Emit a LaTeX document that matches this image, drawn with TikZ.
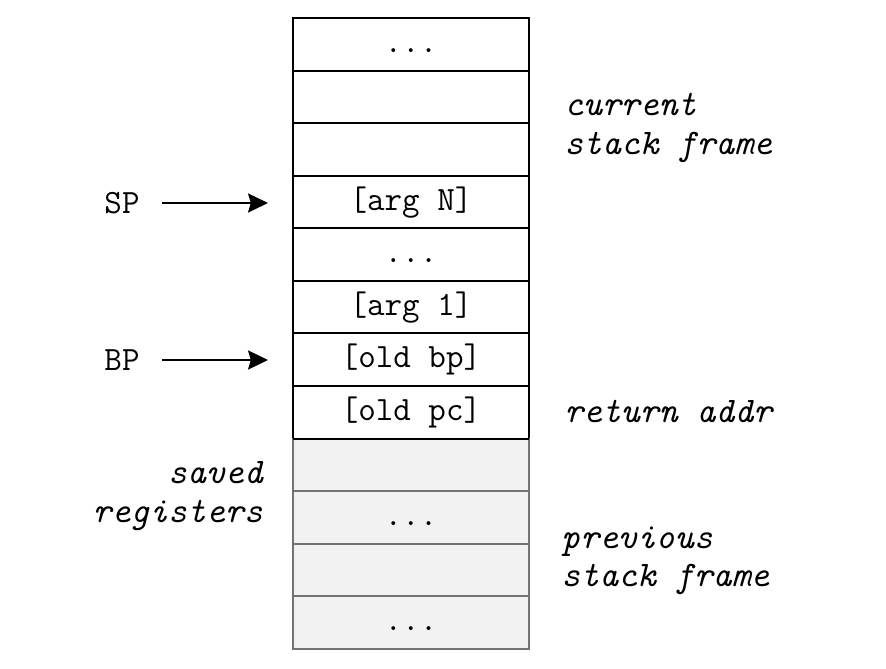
\documentclass[tikz,border=0pt]{standalone}
\usepackage{fontspec}
\usepackage{tikz}
\usetikzlibrary{positioning, arrows.meta}

\newcommand{\cellfont}{\ttfamily\fontsize{24.2}{27}\selectfont}
\newcommand{\notefont}{\ttfamily\itshape\fontsize{25.6}{27.2}\selectfont}

\tikzset{
	cell/.style = {draw, line width = 1.4pt, outer sep = 0pt, inner sep = 0pt,
		minimum width = 5.9cm, minimum height = 1.3145cm, font = \cellfont,
		text height = 0.55cm, text depth = 0.15cm},
	oldcell/.style = {cell, draw = black!55, fill = black!5},
	note/.style = {font = \notefont, inner sep = 0pt},
	reg/.style = {font = \cellfont, inner sep = 0pt},
	ptr/.style = {-{Stealth[length=0.5cm, width=0.48cm, inset=0.07cm]}, line width = 1pt}
}

\begin{document}
\begin{tikzpicture}
			\useasboundingbox (0,0) rectangle (22.15,-16.725);
			% current frame
			\node[cell] at (10.275,-1.107) (c1){...};
			\node[cell, below = 0pt of c1] (c2){};
			\node[cell, below = 0pt of c2] (c3){};
			\node[cell, below = 0pt of c3] (c4){[arg N]};
			\node[cell, below = 0pt of c4] (c5){...};
			\node[cell, below = 0pt of c5] (c6){[arg 1]};
			\node[cell, below = 0pt of c6] (c7){[old bp]};
			\node[cell, below = 0pt of c7] (c8){[old pc]};
			% previous frame
			\node[oldcell, below = 0pt of c8] (c9){};
			\node[oldcell, below = 0pt of c9] (c10){...};
			\node[oldcell, below = 0pt of c10] (c11){};
			\node[oldcell, below = 0pt of c11] (c12){...};
			\draw[line width = 1.4pt] (c8.south west) -- (c8.south east);
			
			\node[reg] at (3.05,-5.075) (sp){SP};
			\node[reg] at (3.05,-9.0) (bp){BP};
			\draw[ptr, shorten <= 0.55cm, shorten >= 0.625cm] (sp.east) -- (sp.east -| c4.west);
			\draw[ptr, shorten <= 0.55cm, shorten >= 0.625cm] (bp.east) -- (bp.east -| c7.west);
			
			\node[note, anchor = west, align = left] at (14.1,-3.2) (cur){current\\stack frame};
			\node[note, anchor = west] at (14.1,-10.28) (ret){return addr};
			\node[note, anchor = east, align = right] at (6.575,-12.4) (saved){saved\\registers};
			\node[note, anchor = west, align = left] at (14.03,-14.02) (prev){previous\\stack frame};
			\end{tikzpicture}
\end{document}
